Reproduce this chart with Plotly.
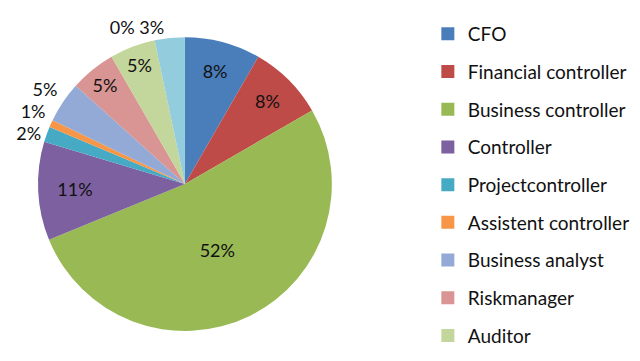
import plotly.graph_objects as go

labels = ["CFO", "Financial controller", "Business controller", "Controller",
          "Projectcontroller", "Assistent controller", "Business analyst",
          "Riskmanager", "Auditor", "Other", "Overig"]
values = [8.3, 8.3, 52.0, 10.8, 1.7, 0.8, 4.5, 5.0, 5.0, 0.0, 3.3]
colors = ["#4A7EBB", "#BE4B48", "#98B954", "#7D60A0", "#46AAC5", "#F79646",
          "#93A9D6", "#D99594", "#C3D69B", "#B3A2C7", "#93CDDD"]
legend_count = 9
text_pos = ["inside", "inside", "inside", "inside", "outside", "outside",
            "outside", "inside", "inside", "outside", "outside"]

FONT = "Lato"

# percentage labels derived from the values; a zero-size slice shares its
# label line with the following slice (as in the source chart)
total = sum(values)
pct = [f"{round(100 * v / total)}%" for v in values]
texts = list(pct)
for i, v in enumerate(values):
    if v == 0 and i + 1 < len(values):
        texts[i + 1] = pct[i] + " " + pct[i + 1]
        texts[i] = ""

fig = go.Figure()
fig.add_trace(go.Pie(
    labels=labels, values=values, sort=False, direction="clockwise", rotation=0,
    marker=dict(colors=colors, line=dict(width=0)),
    text=texts, texttemplate="%{text}", textposition=text_pos,
    insidetextorientation="horizontal",
    textfont=dict(family=FONT, size=18, color="#111111"),
    showlegend=False, hoverinfo="label+percent",
    domain=dict(x=[0.0469, 0.506], y=[0.1053, 0.9194]),
))

for i in range(legend_count):
    fig.add_trace(go.Scatter(
        x=[None], y=[None], mode="markers", name=labels[i],
        marker=dict(symbol="square", size=13, color=colors[i]),
        legendgroup=str(i), showlegend=True,
    ))

fig.update_layout(
    width=640, height=361,
    margin=dict(l=0, r=0, t=0, b=0, autoexpand=False),
    paper_bgcolor="white", plot_bgcolor="white",
    xaxis=dict(visible=False), yaxis=dict(visible=False),
    legend=dict(x=0.656, y=0.9806, xanchor="left", yanchor="top",
                font=dict(family=FONT, size=19, color="#111111"),
                tracegroupgap=10, itemwidth=30, bgcolor="rgba(0,0,0,0)"),
)

hide_lines = """
var gd = document.getElementsByClassName('plotly-graph-div')[0];
function hideLines(){ gd.querySelectorAll('path.textline').forEach(function(e){ e.style.display='none'; }); }
hideLines();
gd.on('plotly_afterplot', hideLines);
"""
fig.write_html("out.html", post_script=hide_lines)
